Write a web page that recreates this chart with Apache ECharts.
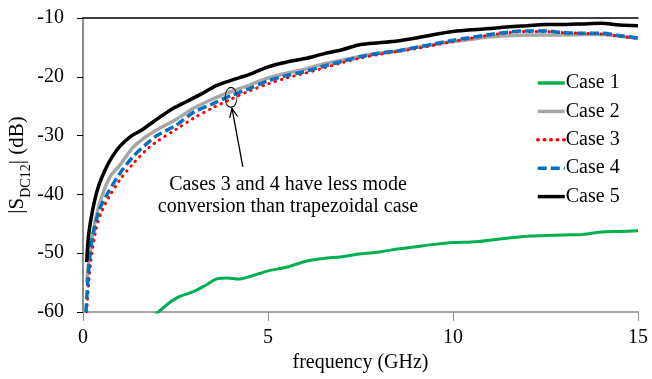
<!DOCTYPE html>
<html><head><meta charset="utf-8">
<script src="https://cdn.jsdelivr.net/npm/echarts@6/dist/echarts.min.js"></script>
<style>html,body{margin:0;padding:0;background:#fff}#c{width:652px;height:379px}</style>
</head><body><div id="c"></div>
<script>
const seriesNames = ['Case 1', 'Case 2', 'Case 3', 'Case 4', 'Case 5'];
const xTicks = [0, 5, 10, 15];
const yTicks = [-60, -50, -40, -30, -20, -10];

const case1 = [[1.9,-60.8],[2.0,-60.2],[2.3,-58.6],[2.6,-57.4],[3.0,-56.5],[3.3,-55.5],[3.6,-54.4],[3.9,-54.2],[4.2,-54.4],[4.6,-53.8],[5.0,-53.0],[5.5,-52.4],[6.0,-51.4],[6.5,-50.9],[7.0,-50.6],[7.5,-50.1],[8.0,-49.8],[8.5,-49.3],[9.0,-48.9],[9.5,-48.5],[10.0,-48.2],[10.5,-48.1],[11.0,-47.8],[11.5,-47.4],[12.0,-47.1],[12.5,-47.0],[13.0,-46.9],[13.5,-46.8],[14.0,-46.4],[14.5,-46.3],[15.0,-46.2]];

const case2 = [[0.1,-55],[0.2,-49],[0.35,-44],[0.5,-40.5],[0.73,-37],[1.0,-35],[1.35,-32],[1.7,-30.2],[2.0,-29],[2.5,-27.3],[3.0,-25.3],[3.5,-23.8],[4.0,-22.5],[4.5,-21.4],[5.0,-20.2],[5.5,-19.4],[6.0,-18.7],[6.5,-17.8],[7.0,-17.2],[7.5,-16.5],[8.0,-16.0],[8.5,-15.6],[9.0,-15.0],[9.5,-14.5],[10.0,-14.0],[10.5,-13.6],[11.0,-13.2],[11.5,-13.0],[12.0,-12.9],[12.5,-12.9],[13.0,-12.9],[13.5,-12.8],[14.0,-12.8],[14.5,-13.1],[15.0,-13.4]];

const case3 = [[0.1,-60],[0.2,-52],[0.35,-46],[0.5,-43],[0.7,-40.5],[1.0,-37.5],[1.35,-34.8],[1.7,-32.5],[2.0,-31],[2.5,-29],[3.0,-27],[3.5,-25.3],[4.0,-23.8],[4.5,-22.4],[5.0,-21.2],[5.5,-20.2],[6.0,-19.4],[6.5,-18.5],[7.0,-17.6],[7.5,-16.8],[8.0,-16.2],[8.5,-15.7],[9.0,-15.2],[9.5,-14.6],[10.0,-14.0],[10.5,-13.4],[11.0,-12.9],[11.5,-12.5],[12.0,-12.3],[12.5,-12.3],[13.0,-12.5],[13.5,-12.6],[14.0,-12.7],[14.5,-13.1],[15.0,-13.5]];

const case4 = [[0.08,-60],[0.19,-50],[0.3,-46],[0.45,-42.5],[0.65,-40],[1.0,-36.4],[1.35,-33.6],[1.7,-31.5],[2.0,-30],[2.5,-28.3],[3.0,-26],[3.5,-24.6],[4.0,-23.2],[4.5,-22],[5.0,-20.7],[5.5,-19.8],[6.0,-19.1],[6.5,-18.2],[7.0,-17.4],[7.5,-16.6],[8.0,-16.0],[8.5,-15.6],[9.0,-15.0],[9.5,-14.4],[10.0,-13.8],[10.5,-13.3],[11.0,-12.8],[11.5,-12.4],[12.0,-12.2],[12.5,-12.2],[13.0,-12.5],[13.5,-12.6],[14.0,-12.6],[14.5,-13.0],[15.0,-13.4]];

const case5 = [[0.1,-51.5],[0.15,-47],[0.25,-43],[0.4,-39],[0.6,-35.8],[0.8,-33.5],[1.0,-31.8],[1.3,-30.1],[1.6,-29],[2.0,-27.2],[2.4,-25.5],[2.8,-24.2],[3.2,-22.9],[3.6,-21.5],[4.0,-20.6],[4.5,-19.6],[5.0,-18.3],[5.5,-17.5],[6.0,-16.9],[6.5,-16.1],[7.0,-15.4],[7.5,-14.5],[8.0,-14.2],[8.5,-13.9],[9.0,-13.4],[9.5,-12.8],[10.0,-12.3],[10.5,-12.0],[11.0,-11.8],[11.5,-11.5],[12.0,-11.3],[12.5,-11.1],[13.0,-11.1],[13.5,-11.0],[14.0,-10.9],[14.5,-11.2],[15.0,-11.3]];

const annotationLines = ['Cases 3 and 4 have less mode', 'conversion than trapezoidal case'];
const ellipsePoint = [4.0, -23.5];
const arrowTail = [4.32, -35.3];

const FONT = '"Liberation Serif", "Times New Roman", serif';
const chart = echarts.init(document.getElementById('c'));

function mkSeries(name, data, color, width, type, cap) {
  return {
    name: name, type: 'line', data: data, smooth: 0.3, symbol: 'none', clip: true,
    lineStyle: { color: color, width: width, type: type, cap: cap || 'butt' },
    itemStyle: { color: color, opacity: 0 }, z: 3
  };
}

const legendItems = seriesNames.map(function (n) {
  return { name: n, lineStyle: { width: 3.5 } };
});

const option = {
  animation: false,
  backgroundColor: '#fff',
  grid: { left: 83, top: 18, right: 14, bottom: 67, containLabel: false, outerBoundsMode: 'none' },
  legend: {
    orient: 'vertical', left: 531, top: 68, itemWidth: 27, itemHeight: 14, itemGap: 8.4,
    data: legendItems,
    itemStyle: { opacity: 0 },
    textStyle: { fontFamily: FONT, fontSize: 20, color: '#000', padding: [0,0,0,-4] }
  },
  xAxis: [{
    type: 'value', min: 0, max: 15, interval: 5,
    axisLine: { show: true, onZero: false, lineStyle: { color: '#a6a6a6', width: 2 } },
    axisTick: { show: true, inside: false, length: 9, lineStyle: { color: '#8c8c8c', width: 1 } },
    axisLabel: { fontFamily: FONT, fontSize: 20, color: '#000', margin: 16,
      formatter: v => xTicks.indexOf(v) >= 0 ? String(v) : '' },
    splitLine: { show: false },
    name: 'frequency (GHz)', nameLocation: 'middle', nameGap: 41, nameMoveOverlap: false,
    nameTextStyle: { fontFamily: FONT, fontSize: 20, color: '#000' }
  }, {
    type: 'value', min: 0, max: 15, position: 'top',
    axisLine: { show: true, lineStyle: { color: '#000', width: 1.5 } },
    axisTick: { show: false }, axisLabel: { show: false }, splitLine: { show: false }
  }],
  yAxis: [{
    type: 'value', min: -60, max: -10, interval: 10,
    axisLine: { show: true, onZero: false, lineStyle: { color: '#000', width: 1.5 } },
    axisTick: { show: true, inside: false, length: 6, lineStyle: { color: '#000', width: 1 } },
    axisLabel: { fontFamily: FONT, fontSize: 20, color: '#000', margin: 19,
      formatter: v => yTicks.indexOf(v) >= 0 ? String(v) : '' },
    splitLine: { show: false },
    name: '|{m|S}{s|DC12}{m|| (dB)}', nameLocation: 'middle', nameRotate: 90, nameGap: 55,
    nameMoveOverlap: false,
    nameTextStyle: {
      fontFamily: FONT, fontSize: 21, color: '#000',
      rich: {
        m: { fontFamily: FONT, fontSize: 21, color: '#000', lineHeight: 24, verticalAlign: 'bottom' },
        s: { fontFamily: FONT, fontSize: 14, color: '#000', lineHeight: 24, verticalAlign: 'bottom', padding: [0,0,-5,0] }
      }
    }
  }, {
    type: 'value', min: -60, max: -10, position: 'right',
    axisLine: { show: true, lineStyle: { color: '#a6a6a6', width: 1.5 } },
    axisTick: { show: false }, axisLabel: { show: false }, splitLine: { show: false }
  }],
  series: [
    mkSeries(seriesNames[0], case1, '#00b050', 3, 'solid'),
    mkSeries(seriesNames[1], case2, '#a6a6a6', 3.5, 'solid'),
    mkSeries(seriesNames[2], case3, '#ff0000', 3, [0.5, 6], 'round'),
    mkSeries(seriesNames[3], case4, '#0070c0', 3.5, [9, 4]),
    mkSeries(seriesNames[4], case5, '#000000', 3.5, 'solid')
  ]
};
chart.setOption(option);

const ep = chart.convertToPixel({ gridIndex: 0 }, ellipsePoint);
const tp = chart.convertToPixel({ gridIndex: 0 }, arrowTail);
const head = [ep[0] + 1, ep[1] + 11];
const dx = head[0] - tp[0], dy = head[1] - tp[1];
const len = Math.sqrt(dx*dx + dy*dy);
const ux = dx/len, uy = dy/len;
const hl = 9, hw = 4;
const b1 = [head[0] - ux*hl - uy*hw, head[1] - uy*hl + ux*hw];
const b2 = [head[0] - ux*hl + uy*hw, head[1] - uy*hl - ux*hw];

chart.setOption({
  graphic: [
    { type: 'circle', x: ep[0], y: ep[1], scaleX: 0.6, shape: { cx: 0, cy: 0, r: 10 },
      style: { fill: 'none', stroke: '#000', lineWidth: 1.2 }, z: 10 },
    { type: 'line', shape: { x1: tp[0], y1: tp[1], x2: head[0], y2: head[1] },
      style: { stroke: '#000', lineWidth: 1.3 }, z: 10 },
    { type: 'polyline', shape: { points: [b1, head, b2] },
      style: { stroke: '#000', lineWidth: 1.3, fill: 'none' }, z: 10 },
    { type: 'text', x: 288, y: 185, style: { text: annotationLines[0], font: '20px ' + FONT, fill: '#000', textAlign: 'center', textVerticalAlign: 'middle' }, z: 10 },
    { type: 'text', x: 288, y: 207, style: { text: annotationLines[1], font: '20px ' + FONT, fill: '#000', textAlign: 'center', textVerticalAlign: 'middle' }, z: 10 }
  ]
});
</script>
</body></html>
